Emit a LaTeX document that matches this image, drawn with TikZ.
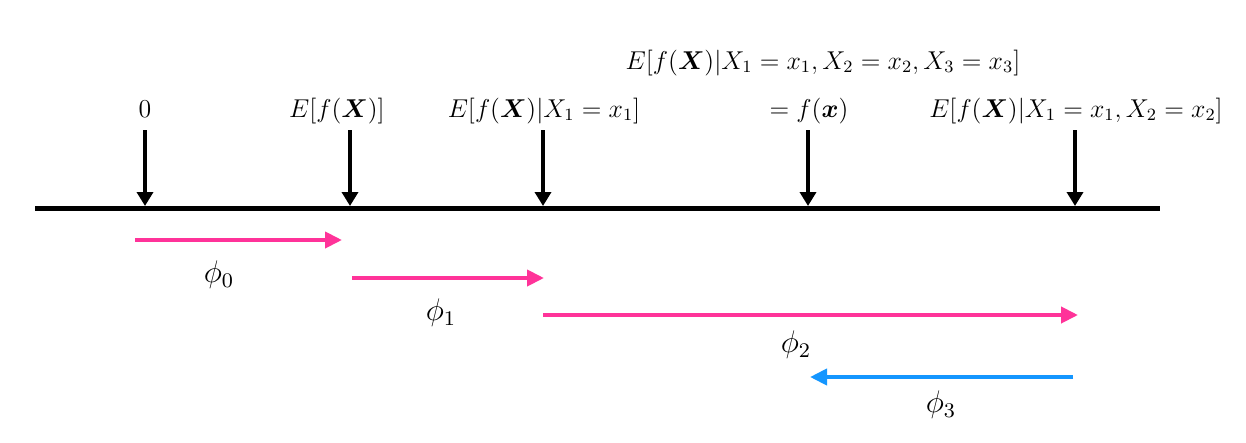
\documentclass[tikz,border=0pt]{standalone}
\usepackage{amsmath,bm}
\usetikzlibrary{arrows.meta}
\definecolor{pinkc}{RGB}{255,51,153}
\definecolor{bluec}{RGB}{20,150,255}
\begin{document}
\begin{tikzpicture}[x=1pt,y=-1pt,
  lab/.style={anchor=base,inner sep=0pt,font=\large,scale=2.15},
  philab/.style={inner sep=0pt,font=\large,scale=2.6},
  tick/.style={line width=4pt,-{Triangle[length=14pt,width=16pt]}},
  contrib/.style={line width=4pt,-{Triangle[length=17pt,width=16pt]}},
  axisline/.style={line width=5pt}]
\useasboundingbox (0,0) rectangle (1246,442);
% axis
\coordinate (aL) at (35,208);
\coordinate (aR) at (1160,208);
\draw[axisline] (aL) -- (aR);
% tick points
\coordinate (t0) at (145,206); \coordinate (s0) at (145,130);
\coordinate (t1) at (350,206); \coordinate (s1) at (350,130);
\coordinate (t2) at (543,206); \coordinate (s2) at (543,130);
\coordinate (t3) at (808,206); \coordinate (s3) at (808,130);
\coordinate (t4) at (1075,206); \coordinate (s4) at (1075,130);
\foreach \i in {0,...,4} \draw[tick] (s\i) -- (t\i);
% labels
\node[lab] (l0) at (145,117) {$0$};
\node[lab] (l1) at (337,117) {$E[f(\bm{X})]$};
\node[lab] (l2) at (544,117) {$E[f(\bm{X})|X_1=x_1]$};
\node[lab] (l3) at (809,117) {$=f(\bm{x})$};
\node[lab] (l3t) at (823,69) {$E[f(\bm{X})|X_1=x_1,X_2=x_2,X_3=x_3]$};
\node[lab] (l4) at (1076,117) {$E[f(\bm{X})|X_1=x_1,X_2=x_2]$};
% contributions
\coordinate (p0a) at (135,240); \coordinate (p0b) at (342,240);
\coordinate (p1a) at (352,278); \coordinate (p1b) at (544,278);
\coordinate (p2a) at (543,315); \coordinate (p2b) at (1078,315);
\coordinate (p3a) at (1073,377); \coordinate (p3b) at (810,377);
\draw[contrib,pinkc] (p0a) -- (p0b);
\draw[contrib,pinkc] (p1a) -- (p1b);
\draw[contrib,pinkc] (p2a) -- (p2b);
\draw[contrib,bluec] (p3a) -- (p3b);
\node[philab] (f0) at (219,275) {$\phi_0$};
\node[philab] (f1) at (441,313) {$\phi_1$};
\node[philab] (f2) at (796,345) {$\phi_2$};
\node[philab] (f3) at (941,405) {$\phi_3$};
\end{tikzpicture}
\end{document}
